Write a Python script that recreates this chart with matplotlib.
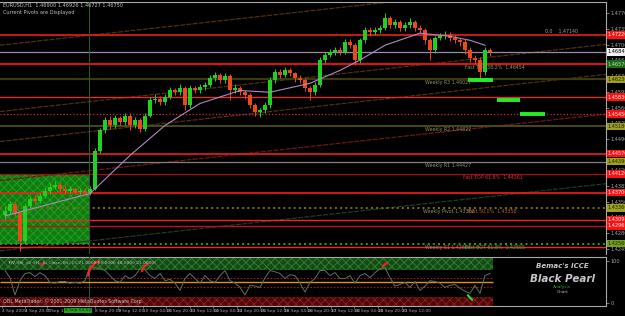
import numpy as np
import matplotlib.pyplot as plt
from matplotlib.patches import Rectangle

# ---- data (EURUSD H1) ----
closes = [1.4330, 1.4345, 1.4325, 1.4262, 1.4341, 1.4356, 1.4352, 1.4363, 1.4374, 1.4383,
          1.4388, 1.4379, 1.4374, 1.4377, 1.4372, 1.4374, 1.4370, 1.4379, 1.4464, 1.4509,
          1.4531, 1.4520, 1.4536, 1.4527, 1.4542, 1.4520, 1.4531, 1.4513, 1.4542, 1.4576,
          1.4580, 1.4572, 1.4583, 1.4598, 1.4594, 1.4603, 1.4565, 1.4603, 1.4598, 1.4605,
          1.4610, 1.4625, 1.4632, 1.4621, 1.4630, 1.4598, 1.4603, 1.4594, 1.4587, 1.4565,
          1.4549, 1.4554, 1.4565, 1.4621, 1.4639, 1.4632, 1.4643, 1.4636, 1.4625, 1.4621,
          1.4603, 1.4594, 1.4610, 1.4666, 1.4677, 1.4684, 1.4688, 1.4684, 1.4706, 1.4699,
          1.4666, 1.4710, 1.4733, 1.4728, 1.4733, 1.4737, 1.4760, 1.4744, 1.4751, 1.4737,
          1.4744, 1.4751, 1.4737, 1.4733, 1.4710, 1.4688, 1.4715, 1.4719, 1.4722, 1.4715,
          1.4710, 1.4706, 1.4688, 1.4670, 1.4666, 1.4639, 1.4688, 1.4684]
highs = [1.4340, 1.4352, 1.4350, 1.4330, 1.4346, 1.4362, 1.4365, 1.4370, 1.4380, 1.4392,
         1.4395, 1.4394, 1.4386, 1.4384, 1.4383, 1.4381, 1.4380, 1.4385, 1.4470, 1.4515,
         1.4538, 1.4540, 1.4544, 1.4542, 1.4548, 1.4547, 1.4538, 1.4536, 1.4548, 1.4584,
         1.4590, 1.4586, 1.4590, 1.4606, 1.4604, 1.4612, 1.4608, 1.4610, 1.4608, 1.4612,
         1.4618, 1.4632, 1.4640, 1.4636, 1.4636, 1.4634, 1.4612, 1.4608, 1.4600, 1.4592,
         1.4570, 1.4560, 1.4572, 1.4628, 1.4646, 1.4645, 1.4650, 1.4648, 1.4640, 1.4632,
         1.4626, 1.4608, 1.4616, 1.4672, 1.4684, 1.4690, 1.4695, 1.4694, 1.4712, 1.4712,
         1.4704, 1.4716, 1.4740, 1.4740, 1.4740, 1.4745, 1.4770, 1.4765, 1.4758, 1.4756,
         1.4750, 1.4760, 1.4756, 1.4745, 1.4738, 1.4716, 1.4720, 1.4726, 1.4730, 1.4728,
         1.4722, 1.4716, 1.4712, 1.4694, 1.4678, 1.4672, 1.4694, 1.4692]
lows = [1.4312, 1.4322, 1.4318, 1.4240, 1.4255, 1.4335, 1.4345, 1.4346, 1.4358, 1.4368,
        1.4378, 1.4372, 1.4368, 1.4369, 1.4366, 1.4366, 1.4364, 1.4365, 1.4375, 1.4458,
        1.4502, 1.4512, 1.4514, 1.4520, 1.4522, 1.4510, 1.4514, 1.4505, 1.4508, 1.4538,
        1.4570, 1.4566, 1.4566, 1.4578, 1.4588, 1.4588, 1.4554, 1.4560, 1.4592, 1.4592,
        1.4600, 1.4605, 1.4620, 1.4614, 1.4615, 1.4576, 1.4592, 1.4588, 1.4580, 1.4558,
        1.4542, 1.4538, 1.4548, 1.4560, 1.4615, 1.4626, 1.4627, 1.4630, 1.4618, 1.4614,
        1.4596, 1.4576, 1.4588, 1.4605, 1.4660, 1.4672, 1.4678, 1.4678, 1.4680, 1.4692,
        1.4654, 1.4660, 1.4704, 1.4720, 1.4722, 1.4727, 1.4732, 1.4738, 1.4738, 1.4730,
        1.4730, 1.4738, 1.4730, 1.4726, 1.4702, 1.4666, 1.4682, 1.4710, 1.4712, 1.4708,
        1.4704, 1.4698, 1.4680, 1.4662, 1.4658, 1.4626, 1.4632, 1.4676]
first_open = 1.4320

ma_bars = [0, 17, 25, 32, 39, 47, 53, 61, 67, 71, 76, 83, 89, 93, 96]
ma_vals = [1.4318, 1.4368, 1.4453, 1.4520, 1.4569, 1.4598, 1.4594, 1.4614, 1.4643,
           1.4666, 1.4699, 1.4726, 1.4719, 1.4710, 1.4699]

rsi = [77, 60, 19, 53, 70, 72, 63, 72, 65, 49, 47, 51, 51, 47, 49, 47, 53, 88, 84, 81,
       77, 65, 53, 49, 65, 58, 65, 81, 79, 65, 58, 70, 53, 56, 47, 30, 58, 70, 58, 47,
       65, 53, 49, 65, 77, 53, 47, 37, 19, 42, 40, 37, 60, 77, 74, 70, 58, 67, 65, 47,
       26, 49, 58, 77, 77, 65, 72, 58, 58, 65, 47, 65, 70, 60, 72, 81, 84, 60, 40, 44,
       49, 37, 51, 30, 40, 53, 51, 47, 37, 42, 44, 35, 28, 23, 42, 23, 65, 70]

# pivot / fib levels
level_prices = [1.4722, 1.4684, 1.4657, 1.4623, 1.4583, 1.4545, 1.4518, 1.4457,
                1.4439, 1.4412, 1.4370, 1.4336, 1.4309, 1.4296, 1.4256, 1.4249]
# trend channel lines, price at bar -1 and at bar 79
chan_start = [1.4699, 1.4551, 1.4484, 1.4397, 1.4240]
chan_end = [1.4798, 1.4650, 1.4583, 1.4495, 1.4339]

price_ticks = [1.4245, 1.4280, 1.4315, 1.4350, 1.4385, 1.4420, 1.4455, 1.4490,
               1.4525, 1.4560, 1.4595, 1.4630, 1.4665, 1.4700, 1.4735, 1.4770]

date_pos = [-0.6, 4, 8.4, 18, 22.6, 27.6, 32.2, 37, 41.6, 46.4, 51, 55.8, 60.4,
            65.2, 69.8, 74.6, 79.4]
date_labels = ['4 Sep 2009', '4 Sep 20:00', '7 Sep 12:00', '8 Sep 20:00', '9 Sep 12:00',
               '10 Sep 04:00', '10 Sep 20:00', '11 Sep 12:00', '14 Sep 04:00',
               '14 Sep 20:00', '15 Sep 12:00', '16 Sep 04:00', '16 Sep 20:00',
               '17 Sep 12:00', '18 Sep 04:00', '18 Sep 20:00', '21 Sep 12:00']

BG = 'black'
GRID = '#a8a8a8'
BULL = '#22d022'
BEAR = '#e84a1a'

fig = plt.figure(figsize=(6.25, 3.16), dpi=100, facecolor=BG)
ax = fig.add_axes([0, 1 - 254 / 316, 606 / 625, 252 / 316], facecolor=BG)
ax2 = fig.add_axes([0, 1 - 306 / 316, 606 / 625, 49 / 316], facecolor=BG, sharex=ax)

n = len(closes)
x = np.arange(n)
opens = [first_open] + closes[:-1]

# green zone (box on the left)
plt.rcParams['hatch.linewidth'] = 0.6
ax.add_patch(Rectangle((-1, 1.4256), 17.8, 1.4412 - 1.4256, facecolor='#127a12',
                       edgecolor='#1fa51f', hatch='xxxx', lw=0, zorder=1))

# channel lines
chan_colors = ['#52300e', '#52300e', '#52300e', '#701810', '#1c3e26']
for s, e, c in zip(chan_start, chan_end, chan_colors):
    ax.axline((-1, s), (79, e), color=c, lw=0.9, ls=(0, (4, 1)), zorder=2)

# horizontal levels
lev_colors = ['#ff2020', '#9a8ca8', '#d01818', '#3a3a10', '#ff2020', '#e02020', '#4a4a16',
              '#ff2020', '#808080', '#a01010', '#ff1a1a', '#807010', '#ff2020', '#c01010',
              '#30a020', '#ff2020']
lev_lw = [1.1, 0.9, 1.6, 1.6, 0.9, 0.9, 1.4, 1.1, 0.9, 0.9, 1.2, 1.4, 1.0, 1.0, 1.4, 1.0]
lev_ls = ['-', '-', '-', '-', '-', ':', '-', '-', '-', '-', '-', ':', '-', '-', ':', '-']
for p, c, w, s in zip(level_prices, lev_colors, lev_lw, lev_ls):
    ax.axhline(p, color=c, lw=w, ls=s, zorder=2)

# candles
for i in range(n):
    col = BULL if closes[i] >= opens[i] else BEAR
    ax.vlines(x[i], lows[i], highs[i], color=col, lw=0.7, zorder=4)
    h = closes[i] - opens[i]
    if abs(h) < 0.00008:
        h = 0.00008
    ax.bar(x[i], h, bottom=opens[i], width=0.72, color=col, lw=0, zorder=5)

# moving average
ax.plot(ma_bars, ma_vals, color='#b088c8', lw=0.8, zorder=6)

# green target bars
ax.hlines([1.4621, 1.4576, 1.4545], [92.6, 98.4, 103], [97.6, 103, 108],
          color='#22ee22', lw=2.8, zorder=6)

# crosshair vertical line
ax.axvline(16.8, color='#2a5a2a', lw=0.8, zorder=3)
ax2.axvline(16.8, color='#2a5a2a', lw=0.8, zorder=3)

# level texts
tkw = dict(fontsize=3.4, zorder=7)
ax.text(108, 1.4724, '0.0    1.47140', color='#a0a0a0', va='bottom', **tkw)
ax.text(84, 1.4621, 'Weekly R3 1.46027', color='#909060', va='top', **tkw)
ax.text(84, 1.4516, 'Weekly R2 1.44822', color='#909060', va='top', **tkw)
ax.text(84, 1.4437, 'Weekly R1 1.44427', color='#909090', va='top', **tkw)
ax.text(91.6, 1.4410, 'Fast TOP 61.8%  1.44161', color='#e03030', va='top', **tkw)
ax.text(83.6, 1.4334, 'Weekly Pivot 1.43362', color='#909060', va='top', **tkw)
ax.text(92.6, 1.4334, 'Fast 50.0%  1.43358', color='#c06030', va='top', **tkw)
ax.text(84, 1.4254, 'Weekly S1 1.42607', color='#909060', va='top', **tkw)
ax.text(92, 1.4254, 'Fast BOT 61.8%  1.42555', color='#30c030', va='top', **tkw)
ax.text(92, 1.4655, 'Fast TOP 38.2%  1.46454', color='#80a060', va='top', **tkw)

# price boxes on the right scale
box_fc = ['#ff1010', '#f0f0f0', '#1a6a1a', '#a0a020', '#ff1010', '#ff1010', '#a0a020',
          '#ff1010', '#a0a020', '#ff1010', '#ff1010', '#a0a020', '#ff1010', '#ff1010',
          '#70a020', None]
box_tc = ['white', 'black', '#c0e0c0', '#202000', 'white', 'white', '#202000', 'white',
          '#202000', 'white', 'white', '#202000', 'white', 'white', '#202000', None]
for p, fc, tc in zip(level_prices, box_fc, box_tc):
    if fc is None:
        continue
    ax.text(1.003, p, f'{p:.5f}', transform=ax.get_yaxis_transform(), fontsize=3.6,
            color=tc, va='center', ha='left', zorder=8, clip_on=False,
            bbox=dict(boxstyle='square,pad=0.25', fc=fc, ec='none'))

ax.set_xlim(-1, 120.2)
ax.set_ylim(1.4233, 1.47955)
ax.yaxis.tick_right()
ax.set_yticks(price_ticks)
ax.set_yticklabels([f'{p:.5f}' for p in price_ticks])
ax.tick_params(axis='y', colors=GRID, labelsize=3.6, length=2, width=0.5, pad=1.5)
ax.tick_params(axis='x', bottom=False, labelbottom=False)
for sp in ['left', 'bottom']:
    ax.spines[sp].set_visible(False)
for sp in ['top', 'right']:
    ax.spines[sp].set_color(GRID)
    ax.spines[sp].set_linewidth(0.8)

ax.text(0.005, 0.995, 'EURUSD,H1  1.46900 1.46926 1.46727 1.46750', transform=ax.transAxes,
        color='#c0c0c0', fontsize=3.6, va='top')
ax.text(0.005, 0.97, 'Current Pivots are Displayed', transform=ax.transAxes,
        color='#c0c0c0', fontsize=3.6, va='top')

# ---- indicator window ----
span_end = (97.6 + 1) / 121.2
ax2.axhspan(79, 109, xmin=0, xmax=span_end, facecolor='#184818',
            edgecolor='#2a8a2a', hatch='xxxx', lw=0, zorder=1)
ax2.axhspan(-7, 15, xmin=0, xmax=span_end, facecolor='#480a0a',
            edgecolor='#a01818', hatch='xxxx', lw=0, zorder=1)
ax2.hlines(50, -1, 97.6, color='#e09020', lw=1.0, zorder=3)
ax2.hlines([60, 38], -1, 97.6, color='#c02020', lw=0.6, ls=(0, (2, 2)), zorder=3)
ax2.plot(x, rsi, color='#607060', lw=0.7, zorder=4)

# signal marks
ax2.plot([7.4, 7.8], [91, 94], color='#ff2020', lw=1.5, zorder=5)
ax2.plot([16.6, 17.0, 18.0, 18.8], [65, 80, 95, 99], color='#ff2020', lw=1.5, zorder=5)
ax2.plot([27.4, 27.8, 28.6], [76, 86, 93], color='#ff2020', lw=1.5, zorder=5)
ax2.plot([75.6, 76.4], [88, 95], color='#ff2020', lw=1.5, zorder=5)
ax2.plot([92.6, 93.4], [18, 8], color='#30e030', lw=1.5, zorder=5)

ax2.text(0.012, 0.93, 'TriV-RSI_v2 (H1, 5, Close, 85, 15.71.0000 60.0000 40.0000 21.0000)',
         transform=ax2.transAxes, color='#c0c0c0', fontsize=3.2, va='top', zorder=6)
ax2.text(0.005, 0.05, 'ODL MetaTrader, \u00a9 2001-2009 MetaQuotes Software Corp.',
         transform=ax2.transAxes, color='#c0c0c0', fontsize=3.4, va='bottom', zorder=6)

ax2.text(0.928, 0.78, "Bemac's ICCE", transform=ax2.transAxes, color='#c8c8c8',
         fontsize=5, fontweight='bold', style='italic', ha='center')
ax2.text(0.928, 0.50, 'Black Pearl', transform=ax2.transAxes, color='#c8c8c8',
         fontsize=7.5, fontweight='bold', style='italic', ha='center')
ax2.text(0.928, 0.36, 'Analysis', transform=ax2.transAxes, color='#30a030',
         fontsize=3.2, ha='center')
ax2.text(0.928, 0.26, 'Chart', transform=ax2.transAxes, color='#b0b0b0',
         fontsize=3.2, ha='center')

ax2.set_ylim(-7, 109)
ax2.yaxis.tick_right()
ax2.set_yticks([0, 100])
ax2.set_yticklabels(['0', '100'])
ax2.tick_params(axis='y', colors=GRID, labelsize=3.6, length=2, width=0.5, pad=1.5)
ax2.set_xticks(date_pos)
ax2.set_xticklabels(date_labels, ha='left')
ax2.tick_params(axis='x', colors=GRID, labelsize=3.2, length=1.5, width=0.5, pad=1)
ax2.spines['left'].set_visible(False)
for sp in ['top', 'right', 'bottom']:
    ax2.spines[sp].set_color(GRID)
    ax2.spines[sp].set_linewidth(0.8)

# highlighted crosshair date
ax2.text(12.0, -0.05, '8 Sep 04:00', transform=ax2.get_xaxis_transform(), fontsize=3.2,
         color='#103010', va='top', ha='left', clip_on=False, zorder=9,
         bbox=dict(boxstyle='square,pad=0.2', fc='#20a020', ec='none'))

fig.savefig('out.png', dpi=100, facecolor=BG)
